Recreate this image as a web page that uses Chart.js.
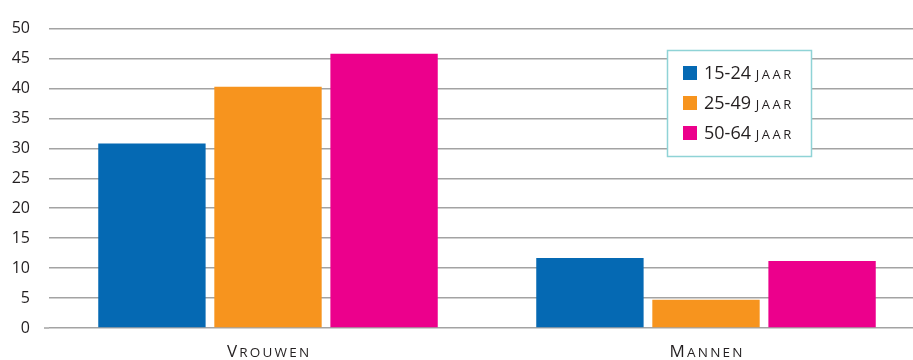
<!DOCTYPE html>
<html>
<head>
<meta charset="utf-8">
<script src="https://cdn.jsdelivr.net/npm/chart.js@4/dist/chart.umd.min.js"></script>
<style>
  html, body { margin: 0; padding: 0; background: #fff; overflow: hidden; }
  #wrap { width: 913px; height: 360px; overflow: hidden; }
</style>
</head>
<body>
<div id="wrap"><canvas id="chart" width="925" height="360"></canvas></div>
<script>
// leeftijdsgroepen per geslacht
const categories = ['Vrouwen', 'Mannen'];
const seriesLabels = ['15-24 jaar', '25-49 jaar', '50-64 jaar'];
const jong = [30.8, 11.7];
const midden = [40.3, 4.7];
const oud = [45.8, 11.2];
const yMax = 50;
const yStep = 5;

const colors = ['#0569b3', '#f7941e', '#ec008c'];
const fontFamily = '"Open Sans", Lato, sans-serif';
const textColor = '#231f20';

// tekst in kleinkapitalen: hoofdletters groot, kleine letters als kleinere hoofdletters
function smallCapsParts(text, bigSize, smallSize) {
    return Array.from(text).map(ch => {
        const isLower = ch !== ch.toUpperCase();
        return { ch: ch.toUpperCase(), size: isLower ? smallSize : bigSize, small: isLower };
    });
}

function drawSmallCaps(ctx, text, x, y, bigSize, smallSize, spacing, align) {
    const parts = smallCapsParts(text, bigSize, smallSize);
    let total = 0;
    parts.forEach(p => {
        ctx.font = '400 ' + p.size + 'px ' + fontFamily;
        p.w = ctx.measureText(p.ch).width + spacing;
        total += p.w;
    });
    total -= spacing;
    let cx = align === 'center' ? x - total / 2 : x;
    ctx.textAlign = 'left';
    ctx.textBaseline = 'alphabetic';
    parts.forEach(p => {
        ctx.font = '400 ' + p.size + 'px ' + fontFamily;
        ctx.fillText(p.ch, cx, y);
        cx += p.w;
    });
}

const decorations = {
    id: 'decorations',
    afterDraw(chart) {
        const ctx = chart.ctx;
        const area = chart.chartArea;
        const xs = chart.scales.x, ys = chart.scales.y;
        ctx.save();

        // nul-lijn iets verder naar links
        const y0 = ys.getPixelForValue(0);
        ctx.strokeStyle = '#a3a3a3';
        ctx.lineWidth = 1.5;
        ctx.beginPath();
        ctx.moveTo(area.left - 5, y0);
        ctx.lineTo(area.left, y0);
        ctx.stroke();

        // categorienamen onder de as
        ctx.fillStyle = textColor;
        chart.data.labels.forEach((lab, i) => {
            drawSmallCaps(ctx, lab, xs.getPixelForTick(i), 357, 17, 13.5, 2.2, 'center');
        });

        // legenda in een kader
        const x = 667, y = 50, w = 144, h = 106;
        ctx.fillStyle = '#fff';
        ctx.fillRect(x, y, w, h);
        ctx.strokeStyle = '#8fd3d6';
        ctx.lineWidth = 1.5;
        ctx.strokeRect(x + 0.5, y + 0.5, w, h);
        chart.data.datasets.forEach((ds, i) => {
            const cy = y + 23 + i * 30;
            ctx.fillStyle = ds.backgroundColor;
            ctx.fillRect(683, cy - 7, 14, 14);
            ctx.fillStyle = textColor;
            const [num, word] = ds.label.split(' ');
            ctx.font = '400 18px ' + fontFamily;
            ctx.textAlign = 'left';
            ctx.textBaseline = 'alphabetic';
            ctx.fillText(num, 704, cy + 6);
            const nw = ctx.measureText(num + ' ').width;
            drawSmallCaps(ctx, word, 704 + nw, cy + 6, 18, 13, 2.6, 'left');
        });
        ctx.restore();
    }
};

const datasets = [jong, midden, oud].map((vals, i) => ({
    label: seriesLabels[i],
    data: vals,
    backgroundColor: colors[i],
    categoryPercentage: 0.795,
    barPercentage: 0.925
}));

new Chart(document.getElementById('chart'), {
    type: 'bar',
    data: { labels: categories, datasets: datasets },
    plugins: [decorations],
    options: {
        responsive: false,
        animation: false,
        layout: { padding: { top: 28, right: 0, left: 0, bottom: 0 } },
        plugins: {
            legend: { display: false },
            tooltip: { enabled: false }
        },
        scales: {
            x: {
                grid: { display: false },
                border: { display: false },
                ticks: { display: false },
                afterFit(scale) { scale.height = 32; }
            },
            y: {
                min: 0,
                max: yMax,
                ticks: {
                    stepSize: yStep,
                    color: textColor,
                    padding: 19,
                    font: { family: fontFamily, size: 16 }
                },
                grid: { color: '#a3a3a3', lineWidth: 1.5, drawTicks: false },
                border: { display: false },
                afterFit(scale) { scale.width = 49; }
            }
        }
    }
});
</script>
</body>
</html>
